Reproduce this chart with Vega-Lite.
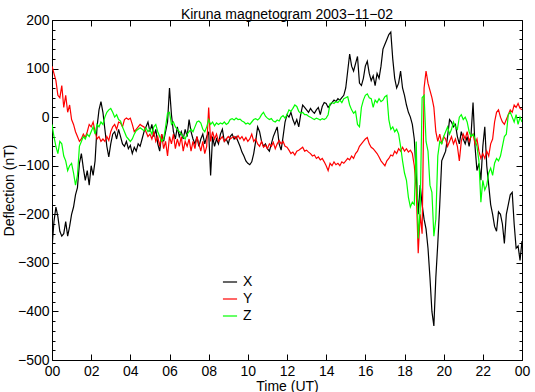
{
  "$schema": "https://vega.github.io/schema/vega-lite/v6.json",
  "autosize": "none",
  "width": 470,
  "height": 340,
  "padding": {"left": 52, "top": 20, "right": 13, "bottom": 32},
  "background": "white",
  "title": {"text": "Kiruna magnetogram 2003−11−02", "font": "Liberation Sans", "fontSize": 14, "fontWeight": "normal", "color": "black", "anchor": "middle", "offset": -9},
  "config": {
    "view": {"stroke": "black", "strokeWidth": 1},
    "axis": {"grid": false, "domain": false, "tickColor": "black", "labelColor": "black", "titleColor": "black", "labelFont": "Liberation Sans", "titleFont": "Liberation Sans", "labelFontSize": 14, "titleFontSize": 14, "titleFontWeight": "normal", "labelFlush": false, "labelOverlap": false}
  },
  "data": {"values": [
{"t":0.0,"X":-270,"Y":105,"Z":-15},{"t":0.1,"X":-215,"Y":90,"Z":-40},{"t":0.2,"X":-185,"Y":75,"Z":-60},{"t":0.3,"X":-205,"Y":45,"Z":-75},{"t":0.4,"X":-235,"Y":40,"Z":-50},{"t":0.5,"X":-245,"Y":65,"Z":-55},{"t":0.6,"X":-240,"Y":20,"Z":-80},{"t":0.7,"X":-215,"Y":45,"Z":-90},{"t":0.8,"X":-245,"Y":10,"Z":-110},{"t":0.9,"X":-225,"Y":25,"Z":-100},
{"t":1.0,"X":-200,"Y":-5,"Z":-95},{"t":1.1,"X":-185,"Y":-15,"Z":-115},{"t":1.2,"X":-160,"Y":-30,"Z":-140},{"t":1.3,"X":-145,"Y":-40,"Z":-120},{"t":1.4,"X":-95,"Y":-50,"Z":-60},{"t":1.5,"X":-75,"Y":-45,"Z":-50},{"t":1.6,"X":-105,"Y":-35,"Z":-40},{"t":1.7,"X":-130,"Y":-42,"Z":-45},{"t":1.8,"X":-110,"Y":-30,"Z":-35},{"t":1.9,"X":-140,"Y":-15,"Z":-40},
{"t":2.0,"X":-100,"Y":-20,"Z":-30},{"t":2.1,"X":-120,"Y":-10,"Z":-20},{"t":2.2,"X":-90,"Y":-30,"Z":-35},{"t":2.3,"X":-20,"Y":-45,"Z":-15},{"t":2.4,"X":15,"Y":-40,"Z":-20},{"t":2.5,"X":32,"Y":-50,"Z":-10},{"t":2.6,"X":10,"Y":-45,"Z":-15},{"t":2.7,"X":-25,"Y":-50,"Z":0},{"t":2.8,"X":-60,"Y":-40,"Z":10},{"t":2.9,"X":-82,"Y":-48,"Z":15},
{"t":3.0,"X":-55,"Y":-30,"Z":18},{"t":3.1,"X":-35,"Y":-20,"Z":10},{"t":3.2,"X":-30,"Y":-15,"Z":0},{"t":3.3,"X":-45,"Y":-25,"Z":5},{"t":3.4,"X":-25,"Y":-10,"Z":-5},{"t":3.5,"X":-40,"Y":-12,"Z":-8},{"t":3.6,"X":-55,"Y":-20,"Z":-20},{"t":3.7,"X":-60,"Y":-5,"Z":-30},{"t":3.8,"X":-50,"Y":-2,"Z":-40},{"t":3.9,"X":-65,"Y":-5,"Z":-45},
{"t":4.0,"X":-58,"Y":-2,"Z":-50},{"t":4.1,"X":-75,"Y":-15,"Z":-45},{"t":4.2,"X":-62,"Y":-30,"Z":-35},{"t":4.3,"X":-70,"Y":-25,"Z":-28},{"t":4.4,"X":-55,"Y":-20,"Z":-25},{"t":4.5,"X":-60,"Y":-15,"Z":-22},{"t":4.6,"X":-45,"Y":-18,"Z":-25},{"t":4.7,"X":-30,"Y":-20,"Z":-28},{"t":4.8,"X":-20,"Y":-30,"Z":-22},{"t":4.9,"X":-10,"Y":-40,"Z":-30},
{"t":5.0,"X":-30,"Y":-35,"Z":-25},{"t":5.1,"X":-15,"Y":-45,"Z":-35},{"t":5.2,"X":-40,"Y":-30,"Z":-20},{"t":5.3,"X":-25,"Y":-50,"Z":-15},{"t":5.4,"X":-55,"Y":-40,"Z":-30},{"t":5.5,"X":-70,"Y":-60,"Z":-40},{"t":5.6,"X":-35,"Y":-35,"Z":-50},{"t":5.7,"X":-50,"Y":-65,"Z":-45},{"t":5.8,"X":-30,"Y":-50,"Z":-20},{"t":5.9,"X":-10,"Y":-80,"Z":8},
{"t":6.0,"X":60,"Y":-40,"Z":10},{"t":6.1,"X":5,"Y":-55,"Z":-15},{"t":6.2,"X":-30,"Y":-35,"Z":-10},{"t":6.3,"X":-45,"Y":-65,"Z":-20},{"t":6.4,"X":-20,"Y":-45,"Z":-25},{"t":6.5,"X":-40,"Y":-60,"Z":-30},{"t":6.6,"X":-30,"Y":-40,"Z":-35},{"t":6.7,"X":-45,"Y":-70,"Z":-40},{"t":6.8,"X":-25,"Y":-50,"Z":-45},{"t":6.9,"X":-40,"Y":-60,"Z":-35},
{"t":7.0,"X":-5,"Y":-45,"Z":-30},{"t":7.1,"X":-30,"Y":-70,"Z":-25},{"t":7.2,"X":-45,"Y":-50,"Z":-30},{"t":7.3,"X":-55,"Y":-65,"Z":-20},{"t":7.4,"X":-40,"Y":-40,"Z":-10},{"t":7.5,"X":-60,"Y":-55,"Z":-8},{"t":7.6,"X":-45,"Y":-70,"Z":-12},{"t":7.7,"X":-35,"Y":-50,"Z":-25},{"t":7.8,"X":-55,"Y":-75,"Z":-30},{"t":7.9,"X":-40,"Y":-60,"Z":-20},
{"t":8.0,"X":-30,"Y":20,"Z":-5},{"t":8.1,"X":-120,"Y":-50,"Z":-15},{"t":8.2,"X":-40,"Y":-30,"Z":-10},{"t":8.3,"X":-60,"Y":-45,"Z":-18},{"t":8.4,"X":-45,"Y":-35,"Z":-12},{"t":8.5,"X":-55,"Y":-50,"Z":-15},{"t":8.6,"X":-35,"Y":-45,"Z":-12},{"t":8.7,"X":-25,"Y":-40,"Z":-14},{"t":8.8,"X":-50,"Y":-50,"Z":-10},{"t":8.9,"X":-45,"Y":-45,"Z":-15},
{"t":9.0,"X":-55,"Y":-40,"Z":-12},{"t":9.1,"X":-40,"Y":-45,"Z":-5},{"t":9.2,"X":-35,"Y":-42,"Z":-3},{"t":9.3,"X":-45,"Y":-40,"Z":-6},{"t":9.4,"X":-40,"Y":-45,"Z":-2},{"t":9.5,"X":-50,"Y":-38,"Z":-5},{"t":9.6,"X":-60,"Y":-45,"Z":-4},{"t":9.7,"X":-72,"Y":-40,"Z":-8},{"t":9.8,"X":-80,"Y":-48,"Z":-10},{"t":9.9,"X":-90,"Y":-42,"Z":-14},
{"t":10.0,"X":-95,"Y":-50,"Z":-12},{"t":10.1,"X":-98,"Y":-45,"Z":-15},{"t":10.2,"X":-92,"Y":-35,"Z":-10},{"t":10.3,"X":-75,"Y":-50,"Z":-5},{"t":10.4,"X":-50,"Y":-45,"Z":-3},{"t":10.5,"X":-20,"Y":-55,"Z":-6},{"t":10.6,"X":-30,"Y":-60,"Z":-2},{"t":10.7,"X":-50,"Y":-50,"Z":5},{"t":10.8,"X":-60,"Y":-62,"Z":10},{"t":10.9,"X":-55,"Y":-58,"Z":2},
{"t":11.0,"X":-65,"Y":-65,"Z":-2},{"t":11.1,"X":-70,"Y":-55,"Z":-5},{"t":11.2,"X":-55,"Y":-60,"Z":-3},{"t":11.3,"X":-40,"Y":-52,"Z":-8},{"t":11.4,"X":-30,"Y":-65,"Z":-10},{"t":11.5,"X":-20,"Y":-55,"Z":-6},{"t":11.6,"X":-55,"Y":-48,"Z":-8},{"t":11.7,"X":-68,"Y":-55,"Z":0},{"t":11.8,"X":-40,"Y":-50,"Z":3},{"t":11.9,"X":-10,"Y":-60,"Z":-2},
{"t":12.0,"X":5,"Y":-62,"Z":5},{"t":12.1,"X":0,"Y":-68,"Z":15},{"t":12.2,"X":10,"Y":-75,"Z":12},{"t":12.3,"X":-5,"Y":-72,"Z":18},{"t":12.4,"X":-15,"Y":-78,"Z":25},{"t":12.5,"X":-5,"Y":-70,"Z":22},{"t":12.6,"X":-20,"Y":-68,"Z":12},{"t":12.7,"X":5,"Y":-65,"Z":8},{"t":12.8,"X":25,"Y":-62,"Z":10},{"t":12.9,"X":20,"Y":-70,"Z":5},
{"t":13.0,"X":15,"Y":-68,"Z":5},{"t":13.1,"X":10,"Y":-72,"Z":2},{"t":13.2,"X":18,"Y":-75,"Z":0},{"t":13.3,"X":12,"Y":-80,"Z":-3},{"t":13.4,"X":8,"Y":-78,"Z":-5},{"t":13.5,"X":15,"Y":-85,"Z":-2},{"t":13.6,"X":20,"Y":-82,"Z":-4},{"t":13.7,"X":5,"Y":-88,"Z":-6},{"t":13.8,"X":22,"Y":-85,"Z":-3},{"t":13.9,"X":30,"Y":-92,"Z":-5},
{"t":14.0,"X":28,"Y":-100,"Z":-2},{"t":14.1,"X":20,"Y":-110,"Z":5},{"t":14.2,"X":25,"Y":-95,"Z":28},{"t":14.3,"X":30,"Y":-100,"Z":30},{"t":14.4,"X":35,"Y":-92,"Z":28},{"t":14.5,"X":32,"Y":-98,"Z":32},{"t":14.6,"X":38,"Y":-95,"Z":30},{"t":14.7,"X":35,"Y":-100,"Z":35},{"t":14.8,"X":40,"Y":-92,"Z":30},{"t":14.9,"X":45,"Y":-95,"Z":38},
{"t":15.0,"X":60,"Y":-90,"Z":40},{"t":15.1,"X":95,"Y":-85,"Z":42},{"t":15.2,"X":130,"Y":-88,"Z":25},{"t":15.3,"X":105,"Y":-80,"Z":15},{"t":15.4,"X":95,"Y":-85,"Z":8},{"t":15.5,"X":110,"Y":-75,"Z":12},{"t":15.6,"X":125,"Y":-70,"Z":-15},{"t":15.7,"X":70,"Y":-60,"Z":-20},{"t":15.8,"X":65,"Y":-55,"Z":20},{"t":15.9,"X":80,"Y":-50,"Z":35},
{"t":16.0,"X":105,"Y":-45,"Z":45},{"t":16.1,"X":115,"Y":-42,"Z":48},{"t":16.2,"X":90,"Y":-55,"Z":40},{"t":16.3,"X":75,"Y":-62,"Z":38},{"t":16.4,"X":85,"Y":-65,"Z":20},{"t":16.5,"X":65,"Y":-70,"Z":35},{"t":16.6,"X":90,"Y":-75,"Z":30},{"t":16.7,"X":80,"Y":-82,"Z":38},{"t":16.8,"X":105,"Y":-90,"Z":32},{"t":16.9,"X":140,"Y":-95,"Z":35},
{"t":17.0,"X":150,"Y":-100,"Z":42},{"t":17.1,"X":160,"Y":-90,"Z":45},{"t":17.2,"X":170,"Y":-85,"Z":-5},{"t":17.3,"X":175,"Y":-78,"Z":-25},{"t":17.4,"X":120,"Y":-80,"Z":-20},{"t":17.5,"X":80,"Y":-70,"Z":-30},{"t":17.6,"X":60,"Y":-75,"Z":-25},{"t":17.7,"X":70,"Y":-65,"Z":-35},{"t":17.8,"X":95,"Y":-70,"Z":-60},{"t":17.9,"X":60,"Y":-62,"Z":-90},
{"t":18.0,"X":45,"Y":-70,"Z":-115},{"t":18.1,"X":25,"Y":-65,"Z":-130},{"t":18.2,"X":10,"Y":-72,"Z":-165},{"t":18.3,"X":0,"Y":-68,"Z":-185},{"t":18.4,"X":-15,"Y":-75,"Z":-175},{"t":18.5,"X":-45,"Y":-100,"Z":-180},{"t":18.6,"X":-120,"Y":-150,"Z":-50},{"t":18.7,"X":-200,"Y":-280,"Z":-250},{"t":18.8,"X":-140,"Y":-200,"Z":-190},{"t":18.9,"X":-180,"Y":-240,"Z":40},
{"t":19.0,"X":-210,"Y":60,"Z":45},{"t":19.1,"X":-230,"Y":95,"Z":-50},{"t":19.2,"X":-270,"Y":70,"Z":-70},{"t":19.3,"X":-330,"Y":55,"Z":-140},{"t":19.4,"X":-400,"Y":40,"Z":-155},{"t":19.5,"X":-430,"Y":20,"Z":-245},{"t":19.6,"X":-330,"Y":-30,"Z":-210},{"t":19.7,"X":-260,"Y":-50,"Z":-80},{"t":19.8,"X":-180,"Y":-35,"Z":-50},{"t":19.9,"X":-90,"Y":-55,"Z":-55},
{"t":20.0,"X":-80,"Y":-40,"Z":-40},{"t":20.1,"X":-70,"Y":-45,"Z":-30},{"t":20.2,"X":-40,"Y":-60,"Z":-20},{"t":20.3,"X":-5,"Y":-50,"Z":-35},{"t":20.4,"X":-10,"Y":-40,"Z":-25},{"t":20.5,"X":-20,"Y":-55,"Z":-10},{"t":20.6,"X":-15,"Y":-45,"Z":-20},{"t":20.7,"X":-40,"Y":-60,"Z":-25},{"t":20.8,"X":-55,"Y":-90,"Z":0},{"t":20.9,"X":-30,"Y":-50,"Z":5},
{"t":21.0,"X":-45,"Y":-35,"Z":-5},{"t":21.1,"X":-55,"Y":-45,"Z":0},{"t":21.2,"X":-40,"Y":-30,"Z":-10},{"t":21.3,"X":-60,"Y":-50,"Z":-30},{"t":21.4,"X":-35,"Y":-40,"Z":-40},{"t":21.5,"X":30,"Y":-35,"Z":-35},{"t":21.6,"X":-60,"Y":-55,"Z":-45},{"t":21.7,"X":-110,"Y":-45,"Z":-60},{"t":21.8,"X":-95,"Y":-70,"Z":-90},{"t":21.9,"X":-130,"Y":-85,"Z":-175},
{"t":22.0,"X":-60,"Y":-75,"Z":-130},{"t":22.1,"X":-20,"Y":-85,"Z":-150},{"t":22.2,"X":-100,"Y":-70,"Z":-140},{"t":22.3,"X":-140,"Y":-80,"Z":-115},{"t":22.4,"X":-180,"Y":-55,"Z":-105},{"t":22.5,"X":-200,"Y":-45,"Z":-120},{"t":22.6,"X":-225,"Y":-10,"Z":-95},{"t":22.7,"X":-235,"Y":10,"Z":-85},{"t":22.8,"X":-195,"Y":15,"Z":-90},{"t":22.9,"X":-200,"Y":0,"Z":-80},
{"t":23.0,"X":-220,"Y":-10,"Z":-60},{"t":23.1,"X":-260,"Y":-15,"Z":-40},{"t":23.2,"X":-200,"Y":-5,"Z":-35},{"t":23.3,"X":-180,"Y":5,"Z":5},{"t":23.4,"X":-160,"Y":15,"Z":10},{"t":23.5,"X":-155,"Y":10,"Z":0},{"t":23.6,"X":-220,"Y":25,"Z":-10},{"t":23.7,"X":-270,"Y":20,"Z":5},{"t":23.8,"X":-265,"Y":28,"Z":-15},{"t":23.9,"X":-295,"Y":18,"Z":0},
{"t":24.0,"X":-255,"Y":15,"Z":-10}
  ]},
  "transform": [{"fold": ["X", "Y", "Z"], "as": ["series", "value"]}],
  "resolve": {"axis": {"x": "independent", "y": "independent"}},
  "layer": [
    {
      "mark": {"type": "line", "opacity": 0},
      "encoding": {
        "x": {"field": "t", "type": "quantitative", "scale": {"domain": [0, 24], "nice": false, "zero": false},
          "axis": {"orient": "top", "values": [0,2,4,6,8,10,12,14,16,18,20,22,24], "labels": false, "tickSize": -6, "title": null}},
        "y": {"field": "value", "type": "quantitative", "scale": {"domain": [-500, 200], "nice": false, "zero": false},
          "axis": {"orient": "right", "values": [-500,-480,-460,-440,-420,-400,-380,-360,-340,-320,-300,-280,-260,-240,-220,-200,-180,-160,-140,-120,-100,-80,-60,-40,-20,0,20,40,60,80,100,120,140,160,180,200], "labels": false, "tickSize": {"condition": {"test": "datum.value % 100 === 0", "value": -6}, "value": -3}, "title": null}},
        "detail": {"field": "series"}
      }
    },
    {
      "mark": {"type": "line", "strokeWidth": 1.2, "clip": true},
      "encoding": {
        "x": {"field": "t", "type": "quantitative", "scale": {"domain": [0, 24], "nice": false, "zero": false},
          "axis": {"orient": "bottom", "values": [0,2,4,6,8,10,12,14,16,18,20,22,24], "tickSize": -6, "labelPadding": 10, "labelExpr": "datum.value == 24 ? '00' : (datum.value < 10 ? '0' + datum.value : '' + datum.value)", "title": "Time (UT)", "titlePadding": 1}},
        "y": {"field": "value", "type": "quantitative", "scale": {"domain": [-500, 200], "nice": false, "zero": false},
          "axis": {"orient": "left", "values": [-500,-480,-460,-440,-420,-400,-380,-360,-340,-320,-300,-280,-260,-240,-220,-200,-180,-160,-140,-120,-100,-80,-60,-40,-20,0,20,40,60,80,100,120,140,160,180,200], "format": "d", "labelExpr": "datum.value % 100 === 0 ? datum.label : ''", "tickSize": {"condition": {"test": "datum.value % 100 === 0", "value": -6}, "value": -3}, "labelPadding": 9, "title": "Deflection (nT)", "titlePadding": 1}},
        "color": {"field": "series", "type": "nominal", "scale": {"domain": ["X", "Y", "Z"], "range": ["#000000", "#ff0000", "#00ff00"]},
          "legend": {"title": null, "orient": "none", "legendX": 170, "legendY": 254, "symbolType": "stroke", "symbolSize": 200, "symbolStrokeWidth": 1.2, "labelFont": "Liberation Sans", "labelFontSize": 14, "labelColor": "black", "labelOffset": 5, "rowPadding": 2, "padding": 0}}
      }
    }
  ]
}
